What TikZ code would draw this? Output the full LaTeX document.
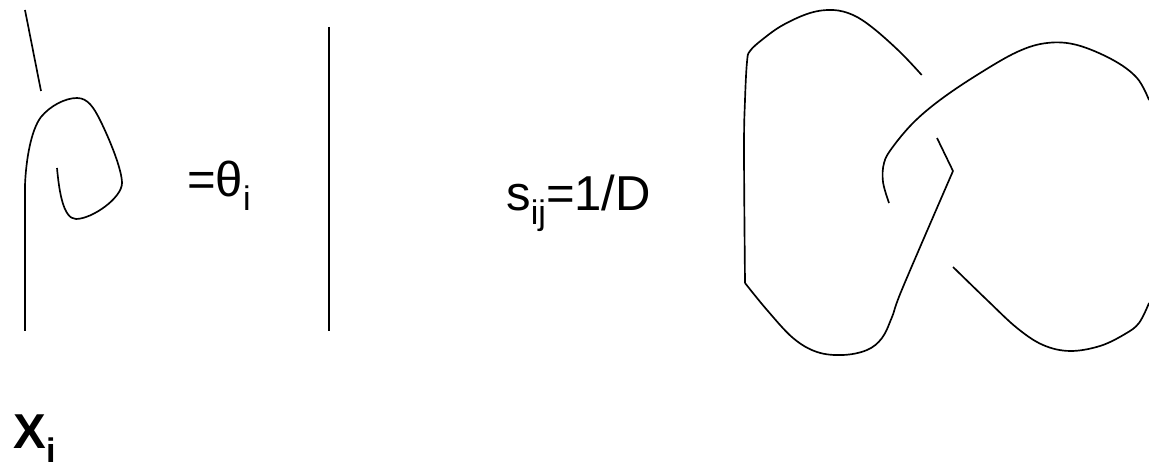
\documentclass[tikz,border=0pt]{standalone}
\usepackage{fontspec}
\setmainfont{Liberation Sans}
\definecolor{ink}{HTML}{000000}
\newcommand{\bigtxt}{\fontsize{27.9}{32}\selectfont}
\newcommand{\subtxt}[1]{\raisebox{-.28cm}{\fontsize{19.4}{22}\selectfont #1}}
\tikzset{
 every node/.append style={font=\bigtxt,text=ink,inner sep=0pt,anchor=base west},
 strand/.style={draw=ink,line width=.95pt,line join=round},
}

\begin{document}
\begin{tikzpicture}[x=.02cm,y=-.02cm]

\useasboundingbox (0,0) rectangle (1149,465);
% twisted strand
\draw[strand] (25,10) -- (41,91);
\draw[strand] (25,331) -- (25,185) .. controls (26,160) and (31,130) .. (41,117) .. controls (50,106) and (65,98) .. (77,98) .. controls (88,98) and (94,108) .. (100,120) .. controls (110,140) and (122,170) .. (122,183) .. controls (122,198) and (92,219) .. (76,219) .. controls (63,219) and (59,190) .. (57,168);
% straight strand
\draw[strand] (329,27) -- (329,331);
% hopf link
\draw[strand] plot[smooth,tension=.6] coordinates {(921.7,75) (900,52) (873,28) (853,15) (833,10) (810,13) (783,25) (763,39) (750,51) (747,62) (745,100) (744,150) (745,283)};
\draw[strand] plot[smooth,tension=.6] coordinates {(745,283) (767,310) (793,338) (817,352) (843,355) (867,350) (882,338) (892,317) (903,287) (953,171)};
\draw[strand] (953,171) -- (937,138);
\draw[strand] plot[smooth,tension=.6] coordinates {(889,203) (883,182) (884,163) (892,148) (913,123) (940,100) (977,75) (1017,52) (1047,43) (1077,45) (1113,60) (1137,78) (1149,100)};
\draw[strand] plot[smooth,tension=.6] coordinates {(1149,303) (1139,323) (1125,334) (1100,346) (1070,351) (1043,345) (1017,328) (987,300) (953,267)};
% labels
\node (twist) at (187,197) {=θ\subtxt{i}};
\node (smatrix) at (506,211) {s\subtxt{ij}=1/D};
\node (xlabel) at (13,449) {\textbf{X}\subtxt{\textbf{i}}};

\end{tikzpicture}
\end{document}
